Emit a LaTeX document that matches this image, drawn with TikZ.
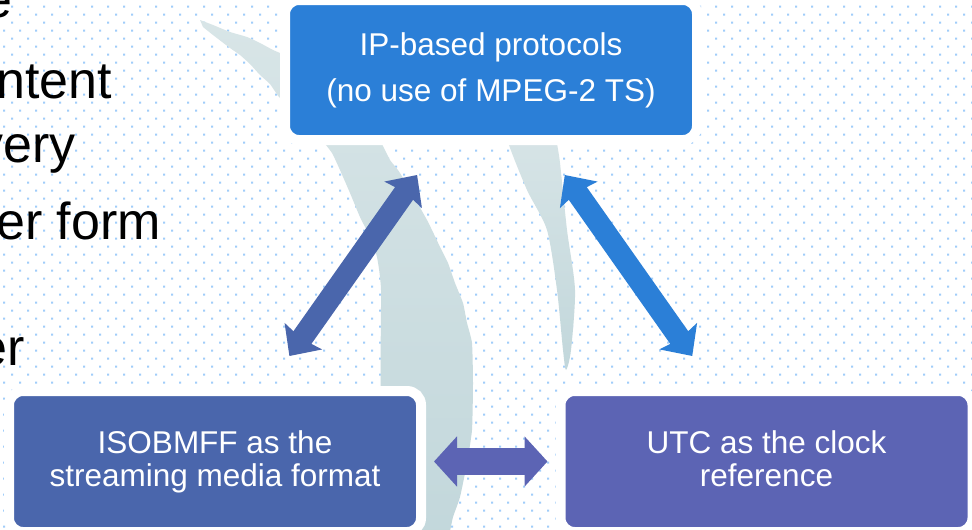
\documentclass[tikz,border=0pt]{standalone}
\usepackage{fontspec}
\setmainfont{Liberation Sans}
\usetikzlibrary{arrows.meta}
\definecolor{ipblue}{RGB}{43,127,215}
\definecolor{isoblue}{RGB}{74,102,172}
\definecolor{utcblue}{RGB}{92,100,180}
\definecolor{dotc}{RGB}{160,205,250}
\definecolor{swA}{RGB}{216,229,231}
\definecolor{swB}{RGB}{194,215,219}
\newcommand\boxfont{\fontsize{31.5}{33}\selectfont}
\newcommand\bigfont{\fontsize{52}{56}\selectfont}
\tikzset{
  boxbase/.style={rounded corners=14pt, draw=white, line width=10pt, outer sep=5pt,
    minimum width=412pt, minimum height=141pt, text=white, align=center,
    font=\boxfont, inner sep=0pt},
  bigtxt/.style={font=\bigfont, text=black, inner sep=0pt, anchor=base east},
  diagarrow/.style={line width=22pt,
    {Stealth[length=24pt,width=45pt,inset=3pt]}-{Stealth[length=24pt,width=45pt,inset=3pt]},
    shorten <=36.7pt, shorten >=36.7pt},
  horizarrow/.style={line width=27pt,
    {Triangle[length=23pt,width=49pt]}-{Triangle[length=23pt,width=49pt]},
    shorten <=8pt, shorten >=8pt},
}
\begin{document}
\begin{tikzpicture}[x=1pt,y=-1pt]
\useasboundingbox (0,0) rectangle (972,530);
\fill[white] (0,0) rectangle (972,530);
% dotted background
\fill[dotc] \foreach \j in {0,2,...,66}{ \foreach \i in {0,...,60}{
   (\i*16+11, 8*\j+5.67) rectangle ++(2,2) } };
\fill[dotc] \foreach \j in {1,3,...,65}{ \foreach \i in {0,...,61}{
   (\i*16+3, 8*\j+5.67) rectangle ++(2,2) } };
% swoosh
\shade[top color=swA, bottom color=swB] plot[smooth, tension=0.3] coordinates {
  (200,20) (213,25) (230,32) (247,37) (260,43) (273,50) (288,57) (330,85)
  (370,120) (380,140) (390,160)
  (400,173) (427,220) (440,247) (448,263) (455,283) (463,303) (467,323)
  (472,343) (473,383) (472,430) (467,463) (460,497) (453,517) (445,545)
  (410,545) (395,480) (381,400) (381,290) (377,257) (370,237) (360,217)
  (350,193) (340,170) (332,153) (322,140) (305,118) (280,98) (270,84)
  (260,75) (250,64) (240,55) (230,48) (213,35) (203,27) } -- cycle;
\shade[top color=swA, bottom color=swB] plot[smooth, tension=0.45] coordinates {
  (505,118) (508,142) (527,190) (547,230) (557,290) (563,350) (566,370)
  (571,350) (575,290) (567,230) (560,163) (557,142) (557,118) } -- cycle;
% left cut-off text
\node[bigtxt] (t1) at (13,17) {e};
\node[bigtxt] (t2) at (112,98) {ntent};
\node[bigtxt] (t3) at (76,162) {very};
\node[bigtxt] (t4) at (161,239) {er form};
\node[bigtxt] (t5) at (25,365) {er};
% boxes
\node[boxbase, fill=ipblue, minimum height=140pt] (ip) at (491,70)
  {IP-based protocols\\[13pt](no use of MPEG-2 TS)};
\node[boxbase, fill=isoblue] (iso) at (215,461.5)
  {ISOBMFF as the\\streaming media format};
\node[boxbase, fill=utcblue] (utc) at (766.5,461.5)
  {UTC as the clock\\reference\vphantom{g}};
% arrows
\draw[diagarrow, isoblue] (iso) -- (ip);
\draw[diagarrow, ipblue] (utc) -- (ip);
\draw[horizarrow, utcblue] (iso) -- (utc);
\end{tikzpicture}
\end{document}
